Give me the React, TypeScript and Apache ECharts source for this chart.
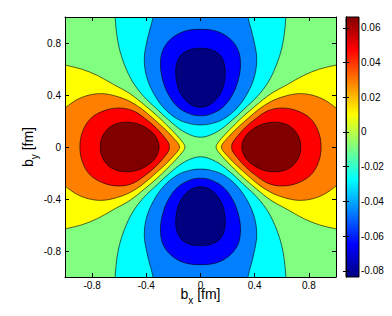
import React, { useEffect, useRef } from "react";
import * as echarts from "echarts";

// ---- axis ticks ----
const xTickValues = [-0.8, -0.4, 0, 0.4, 0.8];
const yTickValues = [-0.8, -0.4, 0, 0.4, 0.8];
const colorbarTicks = [-0.08, -0.06, -0.04, -0.02, 0, 0.02, 0.04, 0.06];
const colorbarRange = [-0.0836, 0.0663];

// ---- band colours (jet, low -> high) ----
const bandColors = ["#000080", "#0000ff", "#0080ff", "#00ffff", "#80ff80", "#ffff00", "#ff8000", "#ff0000", "#800000"];

// ---- contour lines, [b_x, b_y] in fm ----
const yellowLeft = [[-1.25,-0.69],[-1.1,-0.655],[-1.0,-0.63],[-0.88,-0.6],[-0.76,-0.55],[-0.64,-0.48],[-0.52,-0.41],[-0.41,-0.32],[-0.32,-0.24],[-0.25,-0.17],[-0.18,-0.095],[-0.13,-0.035],[-0.115,0],[-0.13,0.035],[-0.18,0.095],[-0.25,0.17],[-0.32,0.24],[-0.41,0.32],[-0.52,0.41],[-0.64,0.48],[-0.76,0.55],[-0.88,0.6],[-1.0,0.63],[-1.1,0.655],[-1.25,0.69]];
const yellowRight = [[1.25,-0.69],[1.1,-0.655],[1.0,-0.63],[0.88,-0.6],[0.76,-0.55],[0.64,-0.48],[0.52,-0.41],[0.41,-0.32],[0.32,-0.24],[0.25,-0.17],[0.18,-0.095],[0.13,-0.035],[0.115,0],[0.13,0.035],[0.18,0.095],[0.25,0.17],[0.32,0.24],[0.41,0.32],[0.52,0.41],[0.64,0.48],[0.76,0.55],[0.88,0.6],[1.0,0.63],[1.1,0.655],[1.25,0.69]];
const orangeLeft = [[-1.25,-0.15],[-1.1,-0.23],[-1.0,-0.3],[-0.92,-0.36],[-0.82,-0.4],[-0.72,-0.41],[-0.62,-0.39],[-0.52,-0.35],[-0.43,-0.29],[-0.35,-0.22],[-0.27,-0.145],[-0.2,-0.07],[-0.155,0],[-0.2,0.07],[-0.27,0.145],[-0.35,0.22],[-0.43,0.29],[-0.52,0.35],[-0.62,0.39],[-0.72,0.41],[-0.82,0.4],[-0.92,0.36],[-1.0,0.3],[-1.1,0.23],[-1.25,0.15]];
const orangeRight = [[1.25,-0.15],[1.1,-0.23],[1.0,-0.3],[0.92,-0.36],[0.82,-0.4],[0.72,-0.41],[0.62,-0.39],[0.52,-0.35],[0.43,-0.29],[0.35,-0.22],[0.27,-0.145],[0.2,-0.07],[0.155,0],[0.2,0.07],[0.27,0.145],[0.35,0.22],[0.43,0.29],[0.52,0.35],[0.62,0.39],[0.72,0.41],[0.82,0.4],[0.92,0.36],[1.0,0.3],[1.1,0.23],[1.25,0.15]];
const redLeft = [[-0.89,0],[-0.87,0.12],[-0.81,0.22],[-0.71,0.28],[-0.6,0.3],[-0.5,0.28],[-0.41,0.22],[-0.33,0.15],[-0.27,0.08],[-0.235,0.03],[-0.23,0],[-0.235,-0.03],[-0.27,-0.08],[-0.33,-0.15],[-0.41,-0.22],[-0.5,-0.28],[-0.6,-0.3],[-0.71,-0.28],[-0.81,-0.22],[-0.87,-0.12]];
const redRight = [[0.89,0],[0.87,0.12],[0.81,0.22],[0.71,0.28],[0.6,0.3],[0.5,0.28],[0.41,0.22],[0.33,0.15],[0.27,0.08],[0.235,0.03],[0.23,0],[0.235,-0.03],[0.27,-0.08],[0.33,-0.15],[0.41,-0.22],[0.5,-0.28],[0.6,-0.3],[0.71,-0.28],[0.81,-0.22],[0.87,-0.12]];
const darkRedLeft = [[-0.74,0],[-0.72,0.09],[-0.66,0.16],[-0.57,0.19],[-0.47,0.18],[-0.39,0.14],[-0.33,0.08],[-0.305,0],[-0.33,-0.08],[-0.39,-0.14],[-0.47,-0.18],[-0.57,-0.19],[-0.66,-0.16],[-0.72,-0.09]];
const darkRedRight = [[0.74,0],[0.72,0.09],[0.66,0.16],[0.57,0.19],[0.47,0.18],[0.39,0.14],[0.33,0.08],[0.305,0],[0.33,-0.08],[0.39,-0.14],[0.47,-0.18],[0.57,-0.19],[0.66,-0.16],[0.72,-0.09]];

const cyanTop = [[-0.64,1.25],[-0.635,1.1],[-0.63,1.0],[-0.62,0.88],[-0.6,0.76],[-0.56,0.63],[-0.5,0.5],[-0.42,0.39],[-0.32,0.29],[-0.21,0.185],[-0.11,0.11],[0,0.075],[0.11,0.11],[0.21,0.185],[0.32,0.29],[0.42,0.39],[0.5,0.5],[0.56,0.63],[0.6,0.76],[0.62,0.88],[0.63,1.0],[0.635,1.1],[0.64,1.25]];
const cyanBottom = [[-0.64,-1.25],[-0.635,-1.1],[-0.63,-1.0],[-0.62,-0.88],[-0.6,-0.76],[-0.56,-0.63],[-0.5,-0.5],[-0.42,-0.39],[-0.32,-0.29],[-0.21,-0.185],[-0.11,-0.11],[0,-0.075],[0.11,-0.11],[0.21,-0.185],[0.32,-0.29],[0.42,-0.39],[0.5,-0.5],[0.56,-0.63],[0.6,-0.76],[0.62,-0.88],[0.63,-1.0],[0.635,-1.1],[0.64,-1.25]];
const azureTop = [[-0.34,1.25],[-0.345,1.1],[-0.35,1.0],[-0.375,0.9],[-0.4,0.79],[-0.415,0.68],[-0.4,0.55],[-0.35,0.42],[-0.27,0.3],[-0.17,0.215],[-0.08,0.18],[0,0.17],[0.08,0.18],[0.17,0.215],[0.27,0.3],[0.35,0.42],[0.4,0.55],[0.415,0.68],[0.4,0.79],[0.375,0.9],[0.35,1.0],[0.345,1.1],[0.34,1.25]];
const azureBottom = [[-0.34,-1.25],[-0.345,-1.1],[-0.35,-1.0],[-0.375,-0.9],[-0.4,-0.79],[-0.415,-0.68],[-0.4,-0.55],[-0.35,-0.42],[-0.27,-0.3],[-0.17,-0.215],[-0.08,-0.18],[0,-0.17],[0.08,-0.18],[0.17,-0.215],[0.27,-0.3],[0.35,-0.42],[0.4,-0.55],[0.415,-0.68],[0.4,-0.79],[0.375,-0.9],[0.35,-1.0],[0.345,-1.1],[0.34,-1.25]];
const blueTop = [[0,0.905],[0.12,0.89],[0.22,0.83],[0.28,0.74],[0.295,0.63],[0.28,0.52],[0.24,0.41],[0.17,0.31],[0.08,0.255],[0,0.24],[-0.08,0.255],[-0.17,0.31],[-0.24,0.41],[-0.28,0.52],[-0.295,0.63],[-0.28,0.74],[-0.22,0.83],[-0.12,0.89]];
const blueBottom = [[0,-0.905],[0.12,-0.89],[0.22,-0.83],[0.28,-0.74],[0.295,-0.63],[0.28,-0.52],[0.24,-0.41],[0.17,-0.31],[0.08,-0.255],[0,-0.24],[-0.08,-0.255],[-0.17,-0.31],[-0.24,-0.41],[-0.28,-0.52],[-0.295,-0.63],[-0.28,-0.74],[-0.22,-0.83],[-0.12,-0.89]];
const navyTop = [[0,0.76],[0.09,0.745],[0.15,0.7],[0.18,0.62],[0.18,0.53],[0.16,0.44],[0.115,0.365],[0.06,0.32],[0,0.305],[-0.06,0.32],[-0.115,0.365],[-0.16,0.44],[-0.18,0.53],[-0.18,0.62],[-0.15,0.7],[-0.09,0.745]];
const navyBottom = [[0,-0.76],[0.09,-0.745],[0.15,-0.7],[0.18,-0.62],[0.18,-0.53],[0.16,-0.44],[0.115,-0.365],[0.06,-0.32],[0,-0.305],[-0.06,-0.32],[-0.115,-0.365],[-0.16,-0.44],[-0.18,-0.53],[-0.18,-0.62],[-0.15,-0.7],[-0.09,-0.745]];

// band index enclosed by each contour
const contours = [
  { band: 5, pts: yellowLeft }, { band: 5, pts: yellowRight },
  { band: 6, pts: orangeLeft }, { band: 6, pts: orangeRight },
  { band: 7, pts: redLeft }, { band: 7, pts: redRight },
  { band: 8, pts: darkRedLeft }, { band: 8, pts: darkRedRight },
  { band: 3, pts: cyanTop }, { band: 3, pts: cyanBottom },
  { band: 2, pts: azureTop }, { band: 2, pts: azureBottom },
  { band: 1, pts: blueTop }, { band: 1, pts: blueBottom },
  { band: 0, pts: navyTop }, { band: 0, pts: navyBottom },
];

const FONT = "'Liberation Sans', Arial, Helvetica, sans-serif";

const nameRich = {
  t: { fontSize: 14, lineHeight: 18, verticalAlign: "top", fontFamily: FONT, color: "#000" },
  s: { fontSize: 10, lineHeight: 5, verticalAlign: "bottom", fontFamily: FONT, color: "#000" },
};

export default function App() {
  const ref = useRef<HTMLDivElement>(null);
  useEffect(() => {
    if (!ref.current) return;
    const chart = echarts.init(ref.current, undefined, { renderer: "svg" });
    const frameAxis = (extra: any) => ({
      type: "value",
      min: -1,
      max: 1,
      z: 5,
      splitLine: { show: false },
      axisLine: { show: true, onZero: false, lineStyle: { color: "#000", width: 1 } },
      ...extra,
    });
    const option: any = {
      animation: false,
      backgroundColor: "#fff",
      grid: [
        { left: 65, top: 17, width: 271, height: 260, show: true, backgroundColor: bandColors[4], borderWidth: 0 },
        { left: 346, top: 17, width: 13, height: 260 },
      ],
      xAxis: [
        frameAxis({
          gridIndex: 0,
          position: "bottom",
          axisTick: { show: true, inside: true, length: 4, customValues: xTickValues, lineStyle: { color: "#000" } },
          axisLabel: { customValues: xTickValues, fontSize: 10, color: "#000", margin: 3, fontFamily: FONT },
          name: "{t|b}{s|x}{t| [fm]}",
          nameLocation: "middle",
          nameGap: 10,
          nameMoveOverlap: false,
          nameTextStyle: { rich: nameRich },
        }),
        frameAxis({
          gridIndex: 0,
          position: "top",
          axisTick: { show: true, inside: true, length: 4, customValues: xTickValues, lineStyle: { color: "#000" } },
          axisLabel: { show: false },
        }),
        { gridIndex: 1, type: "value", min: 0, max: 1, show: false },
      ],
      yAxis: [
        frameAxis({
          gridIndex: 0,
          position: "left",
          axisTick: { show: true, inside: true, length: 4, customValues: yTickValues, lineStyle: { color: "#000" } },
          axisLabel: { customValues: yTickValues, fontSize: 10, color: "#000", margin: 4, fontFamily: FONT },
          name: "{t|b}{s|y}{t| [fm]}",
          nameLocation: "middle",
          nameRotate: 90,
          nameGap: 26,
          nameMoveOverlap: false,
          nameTextStyle: { rich: nameRich },
        }),
        frameAxis({
          gridIndex: 0,
          position: "right",
          axisTick: { show: true, inside: true, length: 4, customValues: yTickValues, lineStyle: { color: "#000" } },
          axisLabel: { show: false },
        }),
        {
          gridIndex: 1,
          type: "value",
          position: "right",
          min: colorbarRange[0],
          max: colorbarRange[1],
          z: 5,
          splitLine: { show: false },
          axisLine: { show: true, lineStyle: { color: "#000", width: 1 } },
          axisTick: { show: true, inside: true, length: 3, customValues: colorbarTicks, lineStyle: { color: "#000" } },
          axisLabel: { customValues: colorbarTicks, fontSize: 10, color: "#000", margin: 2, fontFamily: FONT },
        },
        {
          gridIndex: 1,
          type: "value",
          position: "left",
          min: colorbarRange[0],
          max: colorbarRange[1],
          z: 5,
          splitLine: { show: false },
          axisLine: { show: true, lineStyle: { color: "#000", width: 1 } },
          axisTick: { show: true, inside: true, length: 3, customValues: colorbarTicks, lineStyle: { color: "#000" } },
          axisLabel: { show: false },
        },
      ],
      series: [
        {
          type: "custom",
          xAxisIndex: 0,
          yAxisIndex: 0,
          clip: true,
          silent: true,
          data: contours.map(() => [0, 0]),
          renderItem: (params: any, api: any) => {
            const c = contours[params.dataIndex];
            const points = c.pts.map((p) => api.coord(p));
            return {
              type: "polygon",
              shape: { points, smooth: 0.35 },
              style: { fill: bandColors[c.band], stroke: "#000", lineWidth: 0.6 },
            };
          },
        },
        {
          type: "custom",
          xAxisIndex: 2,
          yAxisIndex: 2,
          silent: true,
          data: [[0, colorbarRange[0]]],
          renderItem: (params: any, api: any) => {
            const p1 = api.coord([0, colorbarRange[1]]);
            const p2 = api.coord([1, colorbarRange[0]]);
            return {
              type: "rect",
              shape: { x: p1[0], y: p1[1], width: p2[0] - p1[0], height: p2[1] - p1[1] },
              style: {
                fill: new echarts.graphic.LinearGradient(0, 0, 0, 1, [
                  { offset: 0, color: "#800000" },
                  { offset: 0.125, color: "#ff0000" },
                  { offset: 0.375, color: "#ffff00" },
                  { offset: 0.625, color: "#00ffff" },
                  { offset: 0.875, color: "#0000ff" },
                  { offset: 1, color: "#000080" },
                ]),
                stroke: "#000",
                lineWidth: 1,
              },
            };
          },
        },
      ],
    };
    chart.setOption(option);
    return () => chart.dispose();
  }, []);
  return <div ref={ref} style={{ width: 392, height: 316, position: "absolute", left: 0, top: 0 }} />;
}
